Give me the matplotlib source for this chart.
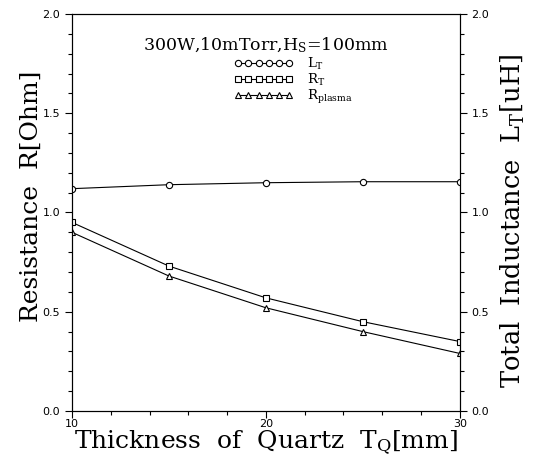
import matplotlib
matplotlib.use("Agg")
import matplotlib.pyplot as plt
from matplotlib.ticker import MultipleLocator

plt.rcParams['mathtext.fontset'] = 'dejavuserif'

thickness = [10, 15, 20, 25, 30]
L_T = [1.12, 1.14, 1.15, 1.155, 1.155]
R_T = [0.95, 0.73, 0.57, 0.45, 0.35]
R_plasma = [0.90, 0.68, 0.52, 0.40, 0.29]

fig = plt.figure(figsize=(5.39, 4.63), dpi=100)
ax = fig.add_axes([0.1336, 0.1123, 0.7194, 0.8575])
ax2 = ax.twinx()

mk = dict(color='black', lw=0.8, mfc='white', mec='black', mew=0.8)
l1, = ax2.plot(thickness, L_T, marker='o', ms=4.5, label='L$_\\mathrm{T}$', **mk)
l2, = ax.plot(thickness, R_T, marker='s', ms=4, label='R$_\\mathrm{T}$', **mk)
l3, = ax.plot(thickness, R_plasma, marker='^', ms=4.5, label='R$_\\mathrm{plasma}$', **mk)

for a in (ax, ax2):
    a.set_ylim(0, 2.0)
    a.yaxis.set_major_locator(MultipleLocator(0.5))
    a.yaxis.set_minor_locator(MultipleLocator(0.1))
    a.tick_params(which='major', length=5, width=0.8, labelsize=8)
    a.tick_params(which='minor', length=3, width=0.8)
ax.set_xlim(10, 30)
ax.xaxis.set_major_locator(MultipleLocator(10))
ax.xaxis.set_minor_locator(MultipleLocator(2))
ax.tick_params(axis='x', which='major', pad=1)

ax.set_ylabel('Resistance  R[Ohm]', family='DejaVu Serif', fontsize=18)
ax.yaxis.set_label_coords(-0.075, 0.54)
ax2.set_ylabel('Total  Inductance  L$_\\mathrm{T}$[uH]', family='DejaVu Serif', fontsize=18.5)
ax2.yaxis.set_label_coords(1.1, 0.48)
ax.set_xlabel('Thickness  of  Quartz  T$_\\mathrm{Q}$[mm]', family='DejaVu Serif', fontsize=18, labelpad=-1)

ax.text(0.5, 0.922, '300W,10mTorr,H$_\\mathrm{S}$=100mm', transform=ax.transAxes,
        ha='center', va='center', family='DejaVu Serif', fontsize=12.5)
leg = ax.legend(handles=[l1, l2, l3], loc='upper center', bbox_to_anchor=(0.57, 0.925),
                frameon=False, numpoints=6, handlelength=4.5, handletextpad=1.0,
                labelspacing=0.0, prop={'family': 'DejaVu Serif', 'size': 9.5})

fig.savefig('out.png', dpi=100)
